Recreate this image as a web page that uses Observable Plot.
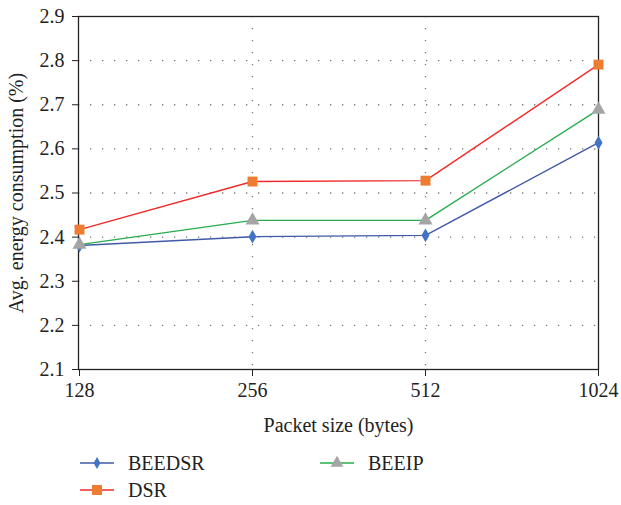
<!DOCTYPE html>
<html><head><meta charset="utf-8">
<script src="https://cdn.jsdelivr.net/npm/d3@7"></script>
<script src="https://cdn.jsdelivr.net/npm/@observablehq/plot@0.6"></script>
<style>
body{margin:0;background:#fff;font-family:"Liberation Serif","Times New Roman",serif;color:#222}
#chart svg text{font-family:"Liberation Serif","Times New Roman",serif !important;font-size:20px !important;fill:#222}
#legend text{font-family:"Liberation Serif","Times New Roman",serif;font-size:20px;fill:#222}
</style>
</head><body><div id="chart"></div><div id="legend"></div>
<script>
const packetSizes = ["128", "256", "512", "1024"];
const yTicks = [2.1, 2.2, 2.3, 2.4, 2.5, 2.6, 2.7, 2.8, 2.9];
const seriesNames = ["BEEDSR", "DSR", "BEEIP"];
const beedsr = [2.381, 2.401, 2.404, 2.614];
const dsr = [2.417, 2.526, 2.528, 2.791];
const beeip = [2.383, 2.438, 2.438, 2.689];

const styles = {
  BEEDSR: {line: "#3f5aa8", marker: "#4472c4", symbol: "diamond", r: 4.2},
  DSR: {line: "#f02a2a", marker: "#ed7d31", symbol: "square", r: 5.6},
  BEEIP: {line: "#27ad4e", marker: "#a5a5a5", symbol: "triangle", r: 5.2}
};
const valuesBy = {BEEDSR: beedsr, DSR: dsr, BEEIP: beeip};
const rows = seriesNames.flatMap(s => packetSizes.map((p, i) => ({series: s, size: p, value: valuesBy[s][i]})));

const marks = [
  Plot.gridY(yTicks.slice(1, -1), {stroke: "#777", strokeOpacity: 1, strokeWidth: 1.3, strokeDasharray: "1.3,10.7"}),
  Plot.gridX(["256", "512"], {stroke: "#777", strokeOpacity: 1, strokeWidth: 1.3, strokeDasharray: "1.3,10.7"}),
  Plot.axisY({ticks: yTicks, tickFormat: d => d.toFixed(1), tickSize: 6, tickPadding: 8,
    label: "Avg. energy consumption (%)", labelAnchor: "center", labelArrow: "none", labelOffset: 70}),
  Plot.axisX({tickSize: 7, tickPadding: 6, label: "Packet size (bytes)", labelAnchor: "center", labelArrow: "none", labelOffset: 62}),
  Plot.frame({stroke: "#222", strokeWidth: 1.3})
];
for (const s of seriesNames) {
  const st = styles[s];
  const d = rows.filter(r => r.series === s);
  marks.push(Plot.line(d, {x: "size", y: "value", stroke: st.line, strokeWidth: 1.4}));
  marks.push(Plot.dot(d, {x: "size", y: "value", symbol: () => st.symbol, fill: st.marker, r: st.r, stroke: "none"}));
}

const chart = Plot.plot({
  width: 621, height: 430,
  marginLeft: 78, marginRight: 23, marginTop: 16, marginBottom: 61,
  style: {background: "#fff", overflow: "visible"},
  x: {type: "point", domain: packetSizes, padding: 0},
  y: {domain: [2.1, 2.9]},
  symbol: {type: "identity"},
  marks
});
document.getElementById("chart").appendChild(chart);

// legend
const leg = d3.select("#legend").append("svg").attr("width", 621).attr("height", 75);
const pos = {BEEDSR: [80, 33], BEEIP: [320, 33], DSR: [80, 60]};
for (const s of seriesNames) {
  const st = styles[s];
  const [x0, y0] = pos[s];
  leg.append("line").attr("x1", x0).attr("x2", x0 + 34).attr("y1", y0).attr("y2", y0).attr("stroke", st.line).attr("stroke-width", 1.4);
  const sym = {diamond: d3.symbolDiamond, square: d3.symbolSquare, triangle: d3.symbolTriangle}[st.symbol];
  const size = {diamond: 40, square: 100, triangle: 70}[st.symbol];
  leg.append("path").attr("d", d3.symbol(sym, size)()).attr("transform", `translate(${x0 + 17},${y0})`).attr("fill", st.marker);
  leg.append("text").attr("x", x0 + 48).attr("y", y0).attr("dy", "0.35em").text(s);
}
</script>
</body></html>
